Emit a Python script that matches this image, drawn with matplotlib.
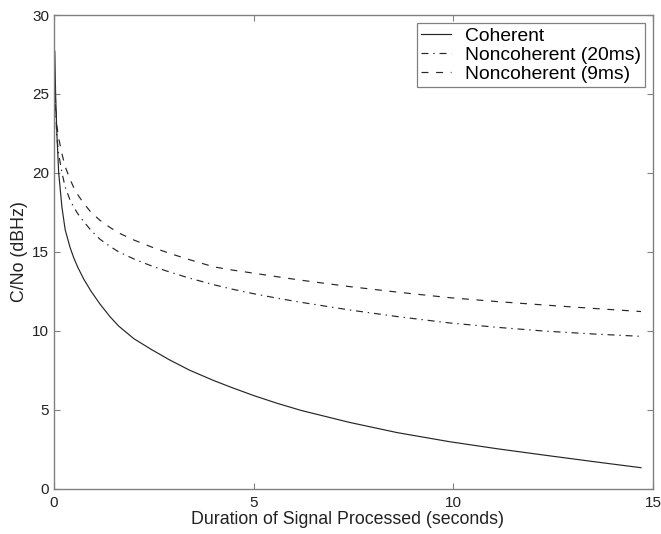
import matplotlib
matplotlib.use("Agg")
import matplotlib.pyplot as plt

# Duration of signal processed (seconds) at which values were read
duration = [0.02, 0.04, 0.07, 0.117, 0.2, 0.28, 0.4, 0.49, 0.6, 0.75, 0.93, 1.15,
            1.4, 1.62, 2.0, 2.45, 2.9, 3.4, 4.0, 4.46, 5.0, 5.6, 6.2, 7.4, 8.6,
            9.9, 11.1, 12.3, 13.5, 14.7]

coherent = [27.7, 25.0, 22.6, 20.0, 17.8, 16.4, 15.3, 14.65, 14.0, 13.25, 12.5, 11.7,
            10.9, 10.3, 9.5, 8.8, 8.15, 7.5, 6.85, 6.4, 5.9, 5.4, 4.95, 4.2, 3.55,
            2.98, 2.53, 2.12, 1.72, 1.33]

noncoh_20ms = [25.5, 24.0, 22.3, 21.2, 20.0, 19.1, 18.3, 17.85, 17.4, 16.9, 16.35, 15.8,
               15.35, 15.0, 14.55, 14.1, 13.72, 13.33, 12.92, 12.64, 12.35, 12.06, 11.8,
               11.32, 10.9, 10.5, 10.22, 9.98, 9.8, 9.65]

noncoh_9ms = [25.8, 24.4, 23.0, 22.2, 21.2, 20.4, 19.6, 19.1, 18.6, 18.05, 17.5, 17.0,
              16.55, 16.2, 15.75, 15.3, 14.9, 14.5, 14.05, 13.85, 13.65, 13.42, 13.2,
              12.8, 12.45, 12.1, 11.85, 11.63, 11.42, 11.22]

labels = ["Coherent", "Noncoherent (20ms)", "Noncoherent (9ms)"]
xlabel = "Duration of Signal Processed (seconds)"
ylabel = "C/No (dBHz)"
xticks = [0, 5, 10, 15]
yticks = [0, 5, 10, 15, 20, 25, 30]

plt.rcParams['font.family'] = ['Liberation Sans', 'DejaVu Sans']
plt.rcParams['lines.scale_dashes'] = False

fig = plt.figure(figsize=(6.61, 5.34), dpi=100)
ax = fig.add_axes([0.0817, 0.0848, 0.9062, 0.8871])

lc = "#262626"
ax.plot(duration, coherent, color=lc, lw=0.85, ls="-", label=labels[0])
ax.plot(duration, noncoh_20ms, color=lc, lw=0.85, ls=(0, (5, 3.5, 1, 3.5)), label=labels[1])
ax.plot(duration, noncoh_9ms, color=lc, lw=0.85, ls=(0, (5, 5.5)), label=labels[2])

ax.set_xlim(0, 15)
ax.set_ylim(0, 30)
ax.set_xticks(xticks)
ax.set_yticks(yticks)
spine_c = "#808080"
for s in ax.spines.values():
    s.set_color(spine_c)
    s.set_linewidth(1.0)
ax.tick_params(direction="in", top=True, right=True, length=4.3, width=0.8,
               colors=spine_c, labelcolor="#222222", labelsize=11)
ax.tick_params(axis="x", pad=5)
ax.tick_params(axis="y", pad=3.5)

ax.set_xlabel(xlabel, fontsize=12.8, color="#222222", labelpad=0)
ax.xaxis.set_label_coords(0.49, -0.047, transform=ax.transAxes)
ax.xaxis.label.set_va("top")
ax.set_ylabel(ylabel, fontsize=12.8, color="#222222", labelpad=3)

leg = ax.legend(loc="upper right", fontsize=13.9, frameon=True, fancybox=False,
                edgecolor=spine_c, framealpha=1, handlelength=1.55,
                borderaxespad=0.42, labelspacing=0.08, borderpad=0.22,
                handletextpad=0.72)
leg.get_frame().set_linewidth(0.9)

fig.savefig("out.png", dpi=100)
